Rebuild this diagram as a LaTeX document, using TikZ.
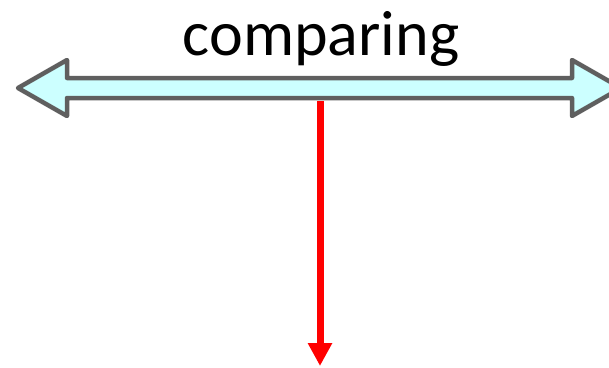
\documentclass[tikz,border=0pt]{standalone}
\usepackage{fontspec}
\setmainfont{Carlito}
\usetikzlibrary{arrows.meta}
\definecolor{barfill}{HTML}{CCFFFF}
\definecolor{barline}{HTML}{5F5F5F}
\definecolor{flowred}{HTML}{FF0000}
\tikzset{
  blockarrow/.style={draw=barline, fill=barfill, line width=4.5pt, line join=round},
  flow/.style={draw=flowred, line width=7pt,
    -{Triangle[width=23pt,length=23pt]}},
  caption/.style={font=\fontsize{64}{70}\selectfont, inner sep=0pt, anchor=base}
}
\begin{document}
\begin{tikzpicture}[x=1pt,y=-1pt]
  \clip (0,0) rectangle (609,367);
  % double-headed block arrow, the right tip runs past the edge
  \draw[blockarrow] (18,88) -- (67,60) -- (67,78) -- (572,78) -- (572,60)
    -- (621,88) -- (572,116) -- (572,98) -- (67,98) -- (67,116) -- cycle;
  \node[caption] (label) at (321,55) {comparing};
  \coordinate (src) at (320,101);
  \coordinate (dst) at (320,366);
  \draw[flow] (src) -- (dst);
\end{tikzpicture}
\end{document}
